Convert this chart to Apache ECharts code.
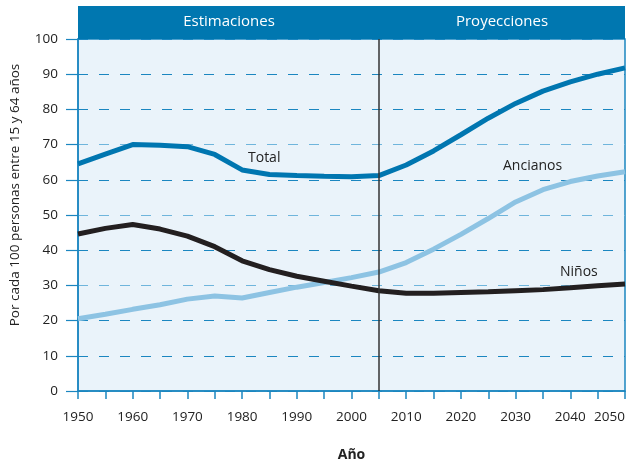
<!DOCTYPE html>
<html>
<head>
    <meta charset="utf-8">
    <script type="text/javascript" src="https://cdn.jsdelivr.net/npm/echarts@6/dist/echarts.min.js"></script>
</head>
<body style="margin:0;">
<div id="main" style="width:627px;height:464px;"></div>

<script type="text/javascript">
    // datos (cada 5 anos)
    var years = [1950, 1955, 1960, 1965, 1970, 1975, 1980, 1985, 1990, 1995, 2000,
                 2005, 2010, 2015, 2020, 2025, 2030, 2035, 2040, 2045, 2050];
    var total = [64.5, 67.3, 70.0, 69.8, 69.4, 67.2, 62.8, 61.5, 61.2, 61.0, 60.9,
                 61.2, 64.2, 68.2, 72.8, 77.5, 81.7, 85.2, 87.8, 90.0, 91.8];
    var ninos = [44.6, 46.2, 47.3, 46.0, 44.0, 41.0, 37.0, 34.5, 32.6, 31.2, 29.8,
                 28.5, 27.8, 27.8, 28.0, 28.2, 28.5, 28.8, 29.3, 29.9, 30.4];
    var ancianos = [20.5, 21.8, 23.2, 24.5, 26.1, 27.0, 26.4, 28.0, 29.5, 30.8, 32.2,
                    33.8, 36.5, 40.3, 44.5, 49.0, 53.7, 57.2, 59.5, 61.1, 62.3];
    var corte = 2005;

    function pares(vals) {
        var out = [];
        for (var i = 0; i < years.length; i++) {
            out.push([years[i], vals[i]]);
        }
        return out;
    }

    var oscuro = '#1b86c0';
    var claro = '#6fb5dc';
    var fuente = '"Open Sans", "Noto Sans", sans-serif';

    var myChart = echarts.init(document.getElementById('main'));
    var option = {
        animation: false,
        textStyle: { fontFamily: fuente },
        grid: {
            left: 78, right: 2, top: 39, bottom: 73,
            outerBoundsMode: 'none',
            containLabel: false,
            show: true,
            backgroundColor: '#eaf3fa',
            borderColor: oscuro,
            borderWidth: 1.5
        },
        xAxis: {
            type: 'value',
            min: 1950, max: 2050, interval: 5,
            name: 'Año',
            nameLocation: 'middle',
            nameGap: 57,
            nameTextStyle: { fontSize: 14, fontWeight: 'bold', color: '#222' },
            axisLine: { lineStyle: { color: oscuro, width: 1.5 } },
            axisTick: { length: 8, lineStyle: { color: oscuro, width: 1.5 } },
            axisLabel: {
                fontSize: 13.5, color: '#222', margin: 19,
                alignMaxLabel: 'right',
                formatter: function (v) { return v % 10 === 0 ? String(v) : ''; }
            },
            splitLine: { show: false }
        },
        yAxis: {
            type: 'value',
            min: 0, max: 100, interval: 10,
            axisLine: { show: true, lineStyle: { color: oscuro, width: 1.5 } },
            axisTick: { show: true, length: 12, lineStyle: { color: oscuro, width: 1.2 } },
            axisLabel: { fontSize: 13.5, color: '#222', margin: 20 },
            splitLine: {
                show: true,
                lineStyle: {
                    type: [10, 11],
                    width: 1.2,
                    color: [oscuro, oscuro, oscuro, claro, oscuro, claro, oscuro, claro, oscuro, oscuro, oscuro]
                }
            }
        },
        graphic: [
            { type: 'rect', shape: { x: 78, y: 6, width: 547, height: 33 }, style: { fill: '#0077b0' }, z: 10 },
            { type: 'text', x: 229, y: 22, style: { text: 'Estimaciones', fill: '#fff', font: '15px ' + fuente, align: 'center', verticalAlign: 'middle' }, z: 11 },
            { type: 'text', x: 502, y: 22, style: { text: 'Proyecciones', fill: '#fff', font: '15px ' + fuente, align: 'center', verticalAlign: 'middle' }, z: 11 },
            { type: 'text', x: 15, y: 195, rotation: Math.PI / 2, style: { text: 'Por cada 100 personas entre 15 y 64 años', fill: '#222', font: '13.5px ' + fuente, align: 'center', verticalAlign: 'middle' }, z: 11 },
            { type: 'text', x: 248, y: 158, style: { text: 'Total', fill: '#222', font: '14px ' + fuente, verticalAlign: 'middle' }, z: 11 },
            { type: 'text', x: 503, y: 166, style: { text: 'Ancianos', fill: '#222', font: '14px ' + fuente, verticalAlign: 'middle' }, z: 11 },
            { type: 'text', x: 560, y: 272, style: { text: 'Niños', fill: '#222', font: '14px ' + fuente, verticalAlign: 'middle' }, z: 11 }
        ],
        series: [
            {
                name: 'Ancianos', type: 'line', data: pares(ancianos),
                symbol: 'none', lineStyle: { color: '#8dc3e3', width: 5 }
            },
            {
                name: 'Niños', type: 'line', data: pares(ninos),
                symbol: 'none', lineStyle: { color: '#231f20', width: 5 }
            },
            {
                name: 'Total', type: 'line', data: pares(total),
                symbol: 'none', lineStyle: { color: '#0076b0', width: 5 },
                markLine: {
                    silent: true,
                    symbol: ['none', 'none'],
                    label: { show: false },
                    lineStyle: { color: '#333', width: 1.5, type: 'solid' },
                    data: [{ xAxis: corte }]
                }
            }
        ]
    };
    myChart.setOption(option);
</script>
</body>
</html>
